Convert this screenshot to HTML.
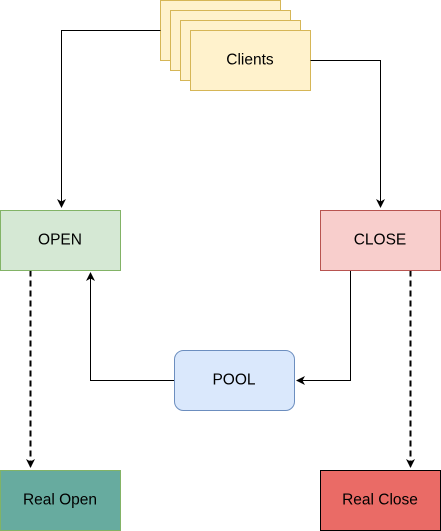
<!DOCTYPE html>
<html><head><style>body{margin:0;background:#fff}svg{display:block}text{font-family:"Liberation Sans",Helvetica,sans-serif;font-size:15.5px;text-anchor:middle;dominant-baseline:central}</style></head><body>
<svg width="441" height="531" viewBox="0 0 441 531">
<defs>
<marker id="a" markerWidth="12" markerHeight="12" refX="9" refY="6" orient="auto" markerUnits="userSpaceOnUse"><path d="M1,1.5 L10,6 L1,10.5 L3.5,6 Z" fill="#000"/></marker>
</defs>
<g fill="#fff2cc" stroke="#d6b656">
<rect x="160.5" y="0.5" width="120" height="60"/>
<rect x="170.5" y="10.5" width="120" height="60"/>
<rect x="180.5" y="20.5" width="120" height="60"/>
<rect x="190.5" y="30.5" width="120" height="60"/>
</g>
<text x="250" y="60">Clients</text>
<g fill="none" stroke="#000">
<path d="M160.5,30.5 H61.5 V207" marker-end="url(#a)"/>
<path d="M310.5,60.5 H380.5 V207" marker-end="url(#a)"/>
<path d="M174.5,380.5 H90.5 V273" marker-end="url(#a)"/>
<path d="M350.5,270.5 V380.5 H297" marker-end="url(#a)"/>
<path d="M30.5,270.5 V467" stroke-width="2" stroke-dasharray="6,4" marker-end="url(#a)"/>
<path d="M410.5,270.5 V467" stroke-width="2" stroke-dasharray="6,4" marker-end="url(#a)"/>
</g>
<rect x="0.5" y="210.5" width="120" height="60" fill="#d5e8d4" stroke="#82b366"/>
<text x="60" y="240">OPEN</text>
<rect x="320.5" y="210.5" width="120" height="60" fill="#f8cecc" stroke="#b85450"/>
<text x="380" y="240">CLOSE</text>
<rect x="174.5" y="350.5" width="120" height="60" rx="9" fill="#dae8fc" stroke="#6c8ebf"/>
<text x="234" y="380">POOL</text>
<rect x="0.5" y="470.5" width="120" height="60" fill="#67ab9f" stroke="#82b366"/>
<text x="60" y="500">Real Open</text>
<rect x="320.5" y="470.5" width="120" height="60" fill="#ea6b66" stroke="#000"/>
<text x="380" y="500">Real Close</text>
</svg>
</body></html>
